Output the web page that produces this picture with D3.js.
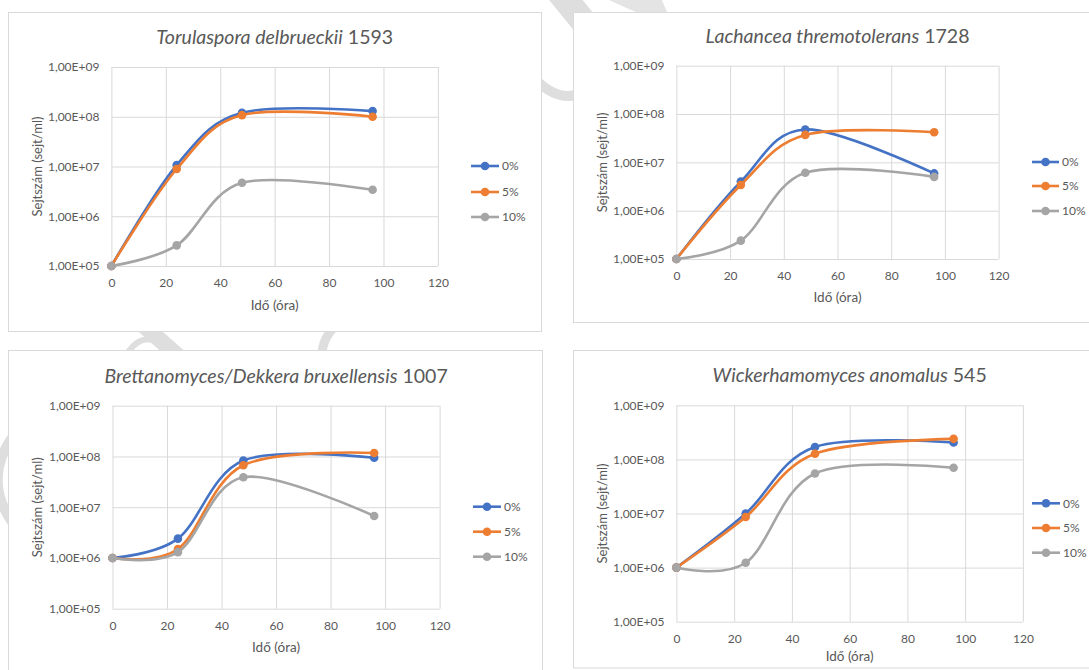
<!DOCTYPE html>
<html>
<head>
<meta charset="utf-8">
<script src="https://cdn.jsdelivr.net/npm/d3@7"></script>
<style>
body{margin:0;background:#fff}
svg{display:block}
text{font-family:Lato,"Open Sans",sans-serif;fill:#595959}
</style>
</head>
<body>
<svg id="chart" width="1089" height="670"></svg>
<script>
// ---------- data ----------
const times = [0, 24, 48, 96];
const seriesNames = ["0%", "5%", "10%"];
const seriesColors = ["#4472C4", "#ED7D31", "#A5A5A5"];
const xTicks = [0, 20, 40, 60, 80, 100, 120];
const xTickLabels = ["0", "20", "40", "60", "80", "100", "120"];
const yTicks = [1e5, 1e6, 1e7, 1e8, 1e9];
const yTickLabels = ["1,00E+05", "1,00E+06", "1,00E+07", "1,00E+08", "1,00E+09"];
const xAxisTitle = "Idő (óra)";
const yAxisTitle = "Sejtszám (sejt/ml)";
const titleSpecies = ["Torulaspora delbrueckii", "Lachancea thremotolerans", "Brettanomyces/Dekkera bruxellensis", "Wickerhamomyces anomalus"];
const titleStrain = ["1593", "1728", "1007", "545"];

const torulaspora0 = [1e5, 1.07e7, 1.2e8, 1.3e8];
const torulaspora5 = [1e5, 8.9e6, 1.08e8, 1.0e8];
const torulaspora10 = [1e5, 2.6e5, 4.7e6, 3.4e6];

const lachancea0 = [1e5, 4.0e6, 4.8e7, 5.9e6];
const lachancea5 = [1e5, 3.4e6, 3.7e7, 4.2e7];
const lachancea10 = [1e5, 2.4e5, 6.1e6, 5.0e6];

const brettanomyces0 = [1e6, 2.4e6, 8.3e7, 9.4e7];
const brettanomyces5 = [1e6, 1.5e6, 6.7e7, 1.17e8];
const brettanomyces10 = [1e6, 1.3e6, 3.9e7, 6.7e6];

const wickerhamomyces0 = [1e6, 1.0e7, 1.7e8, 2.05e8];
const wickerhamomyces5 = [1e6, 8.6e6, 1.27e8, 2.4e8];
const wickerhamomyces10 = [1e6, 1.23e6, 5.5e7, 7.0e7];

const panelSeries = [
  [torulaspora0, torulaspora5, torulaspora10],
  [lachancea0, lachancea5, lachancea10],
  [brettanomyces0, brettanomyces5, brettanomyces10],
  [wickerhamomyces0, wickerhamomyces5, wickerhamomyces10]
];

// ---------- layout ----------
const layouts = [
  {box:[8.5,12.5,533,319], plot:[111.4,437.9,67,266], titleY:37, legX:[471,499], legY:[166,192,217], xTickY:283, xTitleY:305, yTitleX:37},
  {box:[573.5,12.5,530,310], plot:[676.4,998.6,65.7,259], titleY:36, legX:[1032,1059], legY:[162,186,211], xTickY:276, xTitleY:297, yTitleX:602},
  {box:[8.5,350.5,534,340], plot:[112.5,439.6,405.7,608.7], titleY:375.7, legX:[473,501], legY:[506.7,531.7,556.7], xTickY:625.7, xTitleY:647, yTitleX:37},
  {box:[573.5,350.5,530,317.5], plot:[676.4,1022.9,405.3,621.7], titleY:375, legX:[1032,1060], legY:[503.3,528,552.7], xTickY:638.7, xTitleY:656.7, yTitleX:602}
];

const svg = d3.select("#chart");

// faint background watermark pieces (visible in the gutters)
const wm = svg.append("g").attr("fill", "none").attr("stroke", "#dedede");
wm.append("line").attr("x1", 548).attr("y1", -22).attr("x2", 600).attr("y2", 42).attr("stroke-width", 26);
wm.append("path").attr("d", "M520,60 Q560,120 600,80").attr("stroke-width", 10);
wm.append("path").attr("d", "M600,-4 L660,-4 L668,14 L640,14 Z").attr("fill", "#e4e4e4").attr("stroke", "none");
wm.append("line").attr("x1", 135).attr("y1", 318).attr("x2", 185).attr("y2", 362).attr("stroke-width", 16);
wm.append("path").attr("d", "M128,352 Q140,336 152,340").attr("stroke-width", 6);
wm.append("path").attr("d", "M345,318 Q320,335 322,360").attr("stroke-width", 9);
wm.append("path").attr("d", "M14,435 Q-18,478 12,522").attr("stroke-width", 10);

layouts.forEach((L, p) => {
  const g = svg.append("g");
  const [bx, by, bw, bh] = L.box;
  g.append("rect").attr("x", bx).attr("y", by).attr("width", bw).attr("height", bh)
    .attr("fill", "#fff").attr("stroke", "#d9d9d9").attr("stroke-width", 1);

  const [l, r, t, b] = L.plot;
  const x = d3.scaleLinear().domain([0, 120]).range([l, r]);
  const y = d3.scaleLog().domain([1e5, 1e9]).range([b, t]);

  // gridlines
  g.append("g").attr("transform", `translate(0,${b})`)
    .call(d3.axisBottom(x).tickValues(xTicks).tickSize(-(b - t)).tickFormat(""))
    .call(s => { s.select(".domain").remove(); s.selectAll("line").attr("stroke", "#d9d9d9"); });
  g.append("g").attr("transform", `translate(${l},0)`)
    .call(d3.axisLeft(y).tickValues(yTicks).tickSize(-(r - l)).tickFormat(""))
    .call(s => { s.select(".domain").remove(); s.selectAll("line").attr("stroke", "#d9d9d9"); });

  // tick labels
  g.append("g").attr("transform", `translate(${l},0)`)
    .call(d3.axisLeft(y).tickValues(yTicks).tickSize(0).tickPadding(12).tickFormat((d, i) => yTickLabels[i]))
    .call(s => { s.select(".domain").remove(); s.selectAll("text").attr("font-size", 12).attr("fill", "#595959").attr("font-family", "Lato"); });
  g.append("g").attr("transform", `translate(0,${L.xTickY})`)
    .call(d3.axisBottom(x).tickValues(xTicks).tickSize(0).tickPadding(0).tickFormat((d, i) => xTickLabels[i]))
    .call(s => { s.select(".domain").remove(); s.selectAll("text").attr("dy", "0.35em").attr("font-size", 12).attr("fill", "#595959").attr("font-family", "Lato"); });

  // axis titles
  g.append("text").attr("x", (l + r) / 2).attr("y", L.xTitleY).attr("dy", "0.35em")
    .attr("text-anchor", "middle").attr("font-size", 13.5).text(xAxisTitle);
  g.append("text").attr("transform", `translate(${L.yTitleX},${(t + b) / 2}) rotate(-90)`).attr("dy", "0.35em")
    .attr("text-anchor", "middle").attr("font-size", 13).text(yAxisTitle);

  // title
  const tt = g.append("text").attr("x", (l + r) / 2).attr("y", L.titleY).attr("dy", "0.35em")
    .attr("text-anchor", "middle").attr("font-size", 19.5);
  tt.append("tspan").attr("font-style", "italic").text(titleSpecies[p]);
  tt.append("tspan").text(" " + titleStrain[p]);

  // series
  const line = d3.line().x((d, i) => x(times[i])).y(d => y(d)).curve(d3.curveCardinal.tension(0));
  panelSeries[p].forEach((vals, si) => {
    g.append("path").datum(vals).attr("d", line).attr("fill", "none")
      .attr("stroke", seriesColors[si]).attr("stroke-width", 2.6).attr("stroke-linecap", "round");
    g.selectAll(null).data(vals).enter().append("circle")
      .attr("cx", (d, i) => x(times[i])).attr("cy", d => y(d)).attr("r", 4.3)
      .attr("fill", seriesColors[si]);
  });

  // legend
  seriesNames.forEach((nm, si) => {
    const ly = L.legY[si];
    g.append("line").attr("x1", L.legX[0]).attr("x2", L.legX[1]).attr("y1", ly).attr("y2", ly)
      .attr("stroke", seriesColors[si]).attr("stroke-width", 2.6);
    g.append("circle").attr("cx", (L.legX[0] + L.legX[1]) / 2).attr("cy", ly).attr("r", 4.3).attr("fill", seriesColors[si]);
    g.append("text").attr("x", L.legX[1] + 3).attr("y", ly).attr("dy", "0.35em").attr("font-size", 12).text(nm);
  });
});
</script>
</body>
</html>
